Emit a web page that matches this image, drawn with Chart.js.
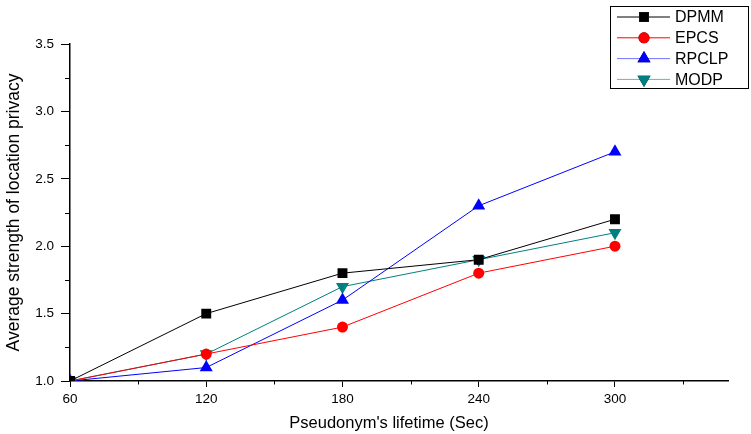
<!DOCTYPE html>
<html>
<head>
<meta charset="utf-8">
<script src="https://cdn.jsdelivr.net/npm/chart.js@4"></script>
<style>
  html, body { margin: 0; padding: 0; background: #fff; }
  #wrap { width: 751px; height: 434px; }
</style>
</head>
<body>
<div id="wrap"><canvas id="chart" width="751" height="434"></canvas></div>
<script>
const lifetimes = [60, 120, 180, 240, 300]
const dpmm = [1.0, 1.5, 1.8, 1.9, 2.2]
const epcs = [1.0, 1.2, 1.4, 1.8, 2.0]
const rpclp = [1.0, 1.1, 1.6, 2.3, 2.7]
const modp = [1.0, 1.2, 1.7, 1.9, 2.1]
const xTicks = [60, 90, 120, 150, 180, 210, 240, 270, 300, 330]
const yTicks = [1.0, 1.25, 1.5, 1.75, 2.0, 2.25, 2.5, 2.75, 3.0, 3.25, 3.5]
const xTitle = "Pseudonym's lifetime (Sec)"

const FONT = "'Liberation Sans', Arial, sans-serif"

function points(values){
  return values.map((v, i) => ({ x: lifetimes[i], y: v }))
}

const series = [
  { label: "DPMM", data: dpmm, color: "#000000", legendColor: "#000000", style: "rect", radius: 7, legendRadius: 7 },
  { label: "EPCS", data: epcs, color: "#ff0000", legendColor: "#ff0000", style: "circle", radius: 5.5, legendRadius: 5.5 },
  { label: "RPCLP", data: rpclp, color: "#0000ff", legendColor: "rgba(0,0,255,0.55)", style: "triangle", radius: 7.5, legendRadius: 7.5 },
  { label: "MODP", data: modp, color: "#008080", legendColor: "rgba(0,128,128,0.6)", style: "triangle", radius: 7.5, legendRadius: 7.5, rotation: 180 }
]

function isMajor(value, step){
  return Math.abs(value / step - Math.round(value / step)) < 1e-6
}

// minor ticks are shorter than the major ones, so they are drawn here
const minorTicks = {
  id: "minorTicks",
  afterDraw(chart){
    const ctx = chart.ctx
    const x = chart.scales.x
    const y = chart.scales.y
    ctx.save()
    ctx.strokeStyle = "#000"
    ctx.lineWidth = 1
    ctx.beginPath()
    xTicks.filter((v) => !isMajor(v, 60)).forEach((v) => {
      const px = Math.round(x.getPixelForValue(v)) + 0.5
      ctx.moveTo(px, x.top)
      ctx.lineTo(px, x.top + 3.5)
    })
    yTicks.filter((v) => !isMajor(v, 0.5)).forEach((v) => {
      const py = Math.round(y.getPixelForValue(v)) + 0.5
      ctx.moveTo(y.right, py)
      ctx.lineTo(y.right - 5, py)
    })
    ctx.stroke()

    ctx.fillStyle = "#000"
    ctx.font = "16.5px " + FONT
    ctx.textAlign = "center"
    ctx.textBaseline = "middle"
    ctx.fillText(xTitle, 389, 423)
    ctx.restore()
  }
}

// Origin style legend box in the top right corner
const legendBox = {
  id: "legendBox",
  afterDraw(chart){
    const ctx = chart.ctx
    const left = 610, top = 6, right = 748, bottom = 88
    ctx.save()
    ctx.fillStyle = "#fff"
    ctx.fillRect(left, top, right - left, bottom - top)
    ctx.strokeStyle = "#000"
    ctx.lineWidth = 1
    ctx.strokeRect(left + 0.5, top + 0.5, right - left, bottom - top)
    ctx.font = "16px " + FONT
    ctx.textBaseline = "middle"
    series.forEach((s, i) => {
      const y = 17 + i * 20.8
      ctx.strokeStyle = s.legendColor
      ctx.lineWidth = 1
      ctx.beginPath()
      ctx.moveTo(617, y)
      ctx.lineTo(670, y)
      ctx.stroke()
      Chart.helpers.drawPoint(ctx, {
        pointStyle: s.style,
        radius: s.legendRadius,
        rotation: s.rotation || 0,
        borderWidth: 0
      }, 644, y)
      ctx.fillStyle = s.color
      ctx.fill()
      ctx.fillStyle = "#000"
      ctx.fillText(s.label, 675, y + 1)
    })
    ctx.restore()
  }
}

new Chart(document.getElementById("chart"), {
  type: "line",
  data: {
    datasets: series.map((s) => ({
      label: s.label,
      data: points(s.data),
      borderColor: s.color,
      backgroundColor: s.color,
      borderWidth: 1,
      pointStyle: s.style,
      pointRadius: s.radius,
      pointRotation: s.rotation || 0,
      pointBorderWidth: 0,
      tension: 0
    }))
  },
  options: {
    responsive: false,
    animation: false,
    layout: { padding: { top: 44, right: 22.5, left: 0, bottom: 0 } },
    plugins: { legend: { display: false }, tooltip: { enabled: false } },
    scales: {
      x: {
        type: "linear",
        min: 60,
        max: 350,
        afterBuildTicks: (axis) => { axis.ticks = xTicks.map((v) => ({ value: v })) },
        afterFit: (axis) => { axis.height = 53 },
        ticks: {
          autoSkip: false,
          maxRotation: 0,
          color: "#000",
          padding: 4,
          font: { family: FONT, size: 13.5 },
          callback: (v) => isMajor(v, 60) ? String(v) : ""
        },
        grid: {
          drawOnChartArea: false,
          tickLength: 6,
          color: (c) => c.tick && isMajor(c.tick.value, 60) ? "#000" : "rgba(0,0,0,0)"
        },
        border: { color: "#000", width: 1.5 },
        title: { display: false }
      },
      y: {
        min: 1.0,
        max: 3.5,
        afterBuildTicks: (axis) => { axis.ticks = yTicks.map((v) => ({ value: v })) },
        afterFit: (axis) => { axis.width = 70 },
        ticks: {
          autoSkip: false,
          color: "#000",
          padding: 7,
          font: { family: FONT, size: 13.5 },
          callback: (v) => isMajor(v, 0.5) ? v.toFixed(1) : ""
        },
        grid: {
          drawOnChartArea: false,
          tickLength: 9,
          color: (c) => c.tick && isMajor(c.tick.value, 0.5) ? "#000" : "rgba(0,0,0,0)"
        },
        border: { color: "#000", width: 1.5 },
        title: {
          display: true,
          text: "Average strength of location privacy",
          color: "#000",
          font: { family: FONT, size: 17.5 },
          padding: { top: 4, bottom: 4 }
        }
      }
    }
  },
  plugins: [minorTicks, legendBox]
})
</script>
</body>
</html>
